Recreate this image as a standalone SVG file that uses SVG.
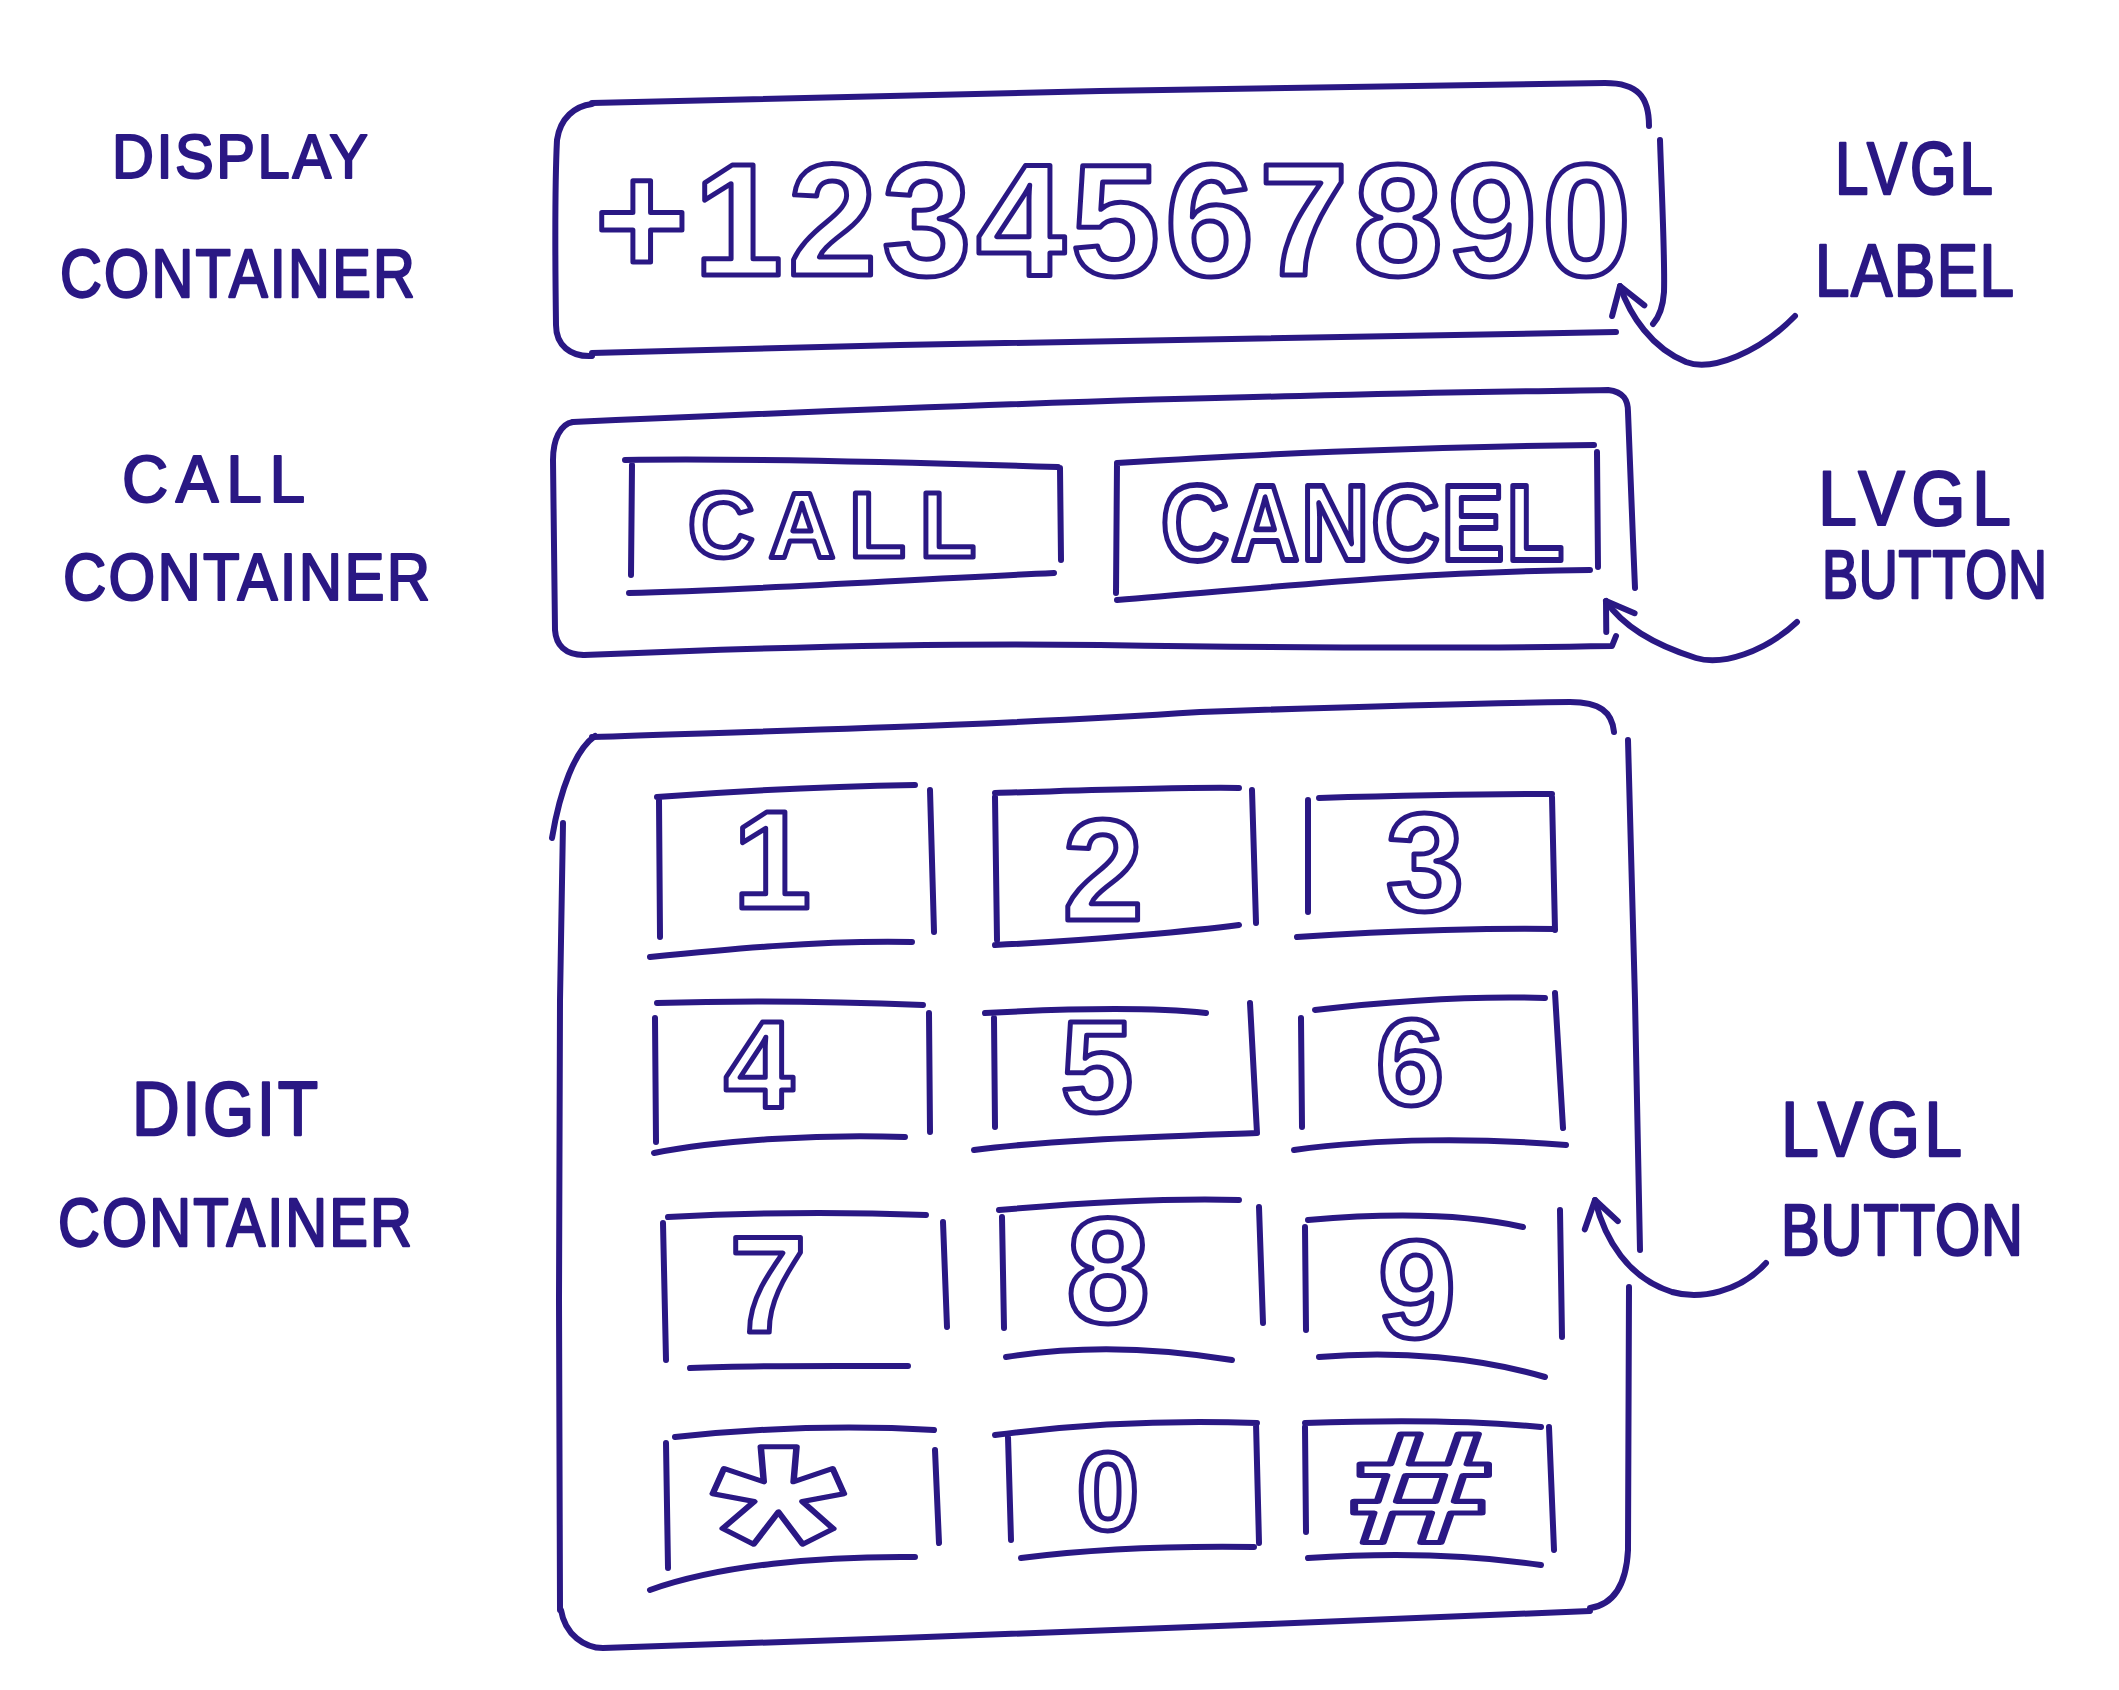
<svg xmlns="http://www.w3.org/2000/svg" width="2119" height="1690" viewBox="0 0 2119 1690">
<style>
.ln{fill:none;stroke:#2a1884;stroke-width:6;stroke-linecap:round;stroke-linejoin:round}
.ol{fill:#ffffff;stroke:#2a1884;stroke-width:5;stroke-linejoin:round;font-family:"Liberation Sans",Arial,sans-serif;font-weight:bold}
.hw{fill:#2a1884;stroke:#2a1884;stroke-width:2;stroke-linejoin:round;font-family:"Liberation Sans",Arial,sans-serif}
</style>
<defs>
<marker id="ah" viewBox="-32 -22 36 44" refX="0" refY="0" markerWidth="36" markerHeight="44" markerUnits="userSpaceOnUse" orient="auto">
<path d="M-26,-17 L0,0 L-26,17" fill="none" stroke="#2a1884" stroke-width="6" stroke-linecap="round" stroke-linejoin="round"/>
</marker>
</defs>
<rect width="2119" height="1690" fill="#ffffff"/>

<g id="display-container">
<path class="ln" d="M592,103 C700,99 900,96 1100,91 C1300,87 1500,86 1605,83 C1638,83 1649,97 1649,126"/>
<path class="ln" d="M1660,140 C1662,200 1665,260 1664,292 C1663,307 1660,316 1653,324"/>
<path class="ln" d="M1616,332 C1500,336 1200,341 900,345 C750,348 650,351 592,353"/>
<path class="ln" d="M592,356 C570,357 556,345 556,325 C555,250 555,180 557,140 C560,118 575,106 592,104"/>
<text class="ol" x="595" y="275" font-size="160" textLength="1036" lengthAdjust="spacing">+1234567890</text>
</g>

<g id="call-container">
<path class="ln" d="M573,422 C800,412 1100,400 1300,396 C1450,392 1560,391 1608,390 C1624,392 1628,400 1628,412 L1633,540 L1635,588"/>
<path class="ln" d="M584,655 C700,650 900,642 1100,645 C1300,648 1500,648 1612,646 L1616,636"/>
<path class="ln" d="M584,655 C565,655 556,645 555,630 L553,460 C553,440 560,424 573,422"/>
</g>

<g id="call-button">
<path class="ln" d="M625,460 C750,458 900,462 1058,467 M632,465 L631,575 M1060,468 L1061,560 M629,593 C750,590 900,580 1054,573"/>
<text class="ol" x="688" y="557" font-size="92" textLength="288" lengthAdjust="spacing">CALL</text>
</g>

<g id="cancel-button">
<path class="ln" d="M1117,463 C1250,455 1400,447 1594,445 M1117,463 L1116,593 M1597,452 L1598,567 M1117,600 C1250,590 1400,572 1590,570"/>
<text class="ol" transform="translate(1161,560) scale(1,1.15)" font-size="94" textLength="403" lengthAdjust="spacing">CANCEL</text>
</g>

<g id="digit-container">
<path class="ln" d="M592,737 C800,730 1000,725 1200,712 C1400,705 1500,703 1570,702 C1600,702 1612,712 1614,732"/>
<path class="ln" d="M1628,740 L1635,1000 L1640,1250 M1629,1287 L1628,1550 C1626,1590 1610,1605 1590,1608"/>
<path class="ln" d="M1590,1611 C1400,1620 1100,1630 900,1638 C750,1643 650,1647 603,1648 C585,1648 565,1635 561,1610"/>
<path class="ln" d="M563,823 L560,1000 L559,1300 L560,1610 M595,736 C575,750 560,790 552,838"/>
</g>

<g id="btn-1"><path class="ln" d="M657,797 C750,790 850,786 915,785 M659,800 L660,937 M930,790 L934,932 M650,957 C720,950 820,940 912,942"/><text class="ol" x="772" y="908" font-size="140" text-anchor="middle">1</text></g>
<g id="btn-2"><path class="ln" d="M995,793 C1100,790 1180,787 1239,788 M995,797 L997,940 M1252,790 L1256,923 M995,945 C1100,940 1200,930 1239,925"/><text class="ol" x="1103" y="920" font-size="145" text-anchor="middle">2</text></g>
<g id="btn-3"><path class="ln" d="M1319,798 C1420,795 1500,794 1552,794 M1308,800 L1308,912 M1552,797 L1555,930 M1297,937 C1400,930 1500,928 1555,929"/><text class="ol" x="1425" y="910" font-size="140" text-anchor="middle">3</text></g>
<g id="btn-4"><path class="ln" d="M657,1003 C750,1000 850,1002 923,1005 M655,1018 L656,1142 M929,1013 L930,1132 M654,1153 C720,1140 820,1134 905,1137"/><text class="ol" x="759" y="1107" font-size="125" text-anchor="middle">4</text></g>
<g id="btn-5"><path class="ln" d="M985,1013 C1080,1008 1160,1008 1206,1013 M994,1018 L995,1127 M1250,1003 L1257,1133 M974,1150 C1050,1140 1150,1137 1257,1133"/><text class="ol" x="1097" y="1112" font-size="130" text-anchor="middle">5</text></g>
<g id="btn-6"><path class="ln" d="M1315,1010 C1400,1000 1480,996 1545,998 M1301,1018 L1302,1127 M1555,993 L1563,1128 M1294,1150 C1380,1138 1480,1138 1566,1145"/><text class="ol" x="1410" y="1105" font-size="122" text-anchor="middle">6</text></g>
<g id="btn-7"><path class="ln" d="M668,1217 C760,1212 850,1212 926,1215 M663,1223 L666,1360 M943,1222 L947,1327 M690,1368 C760,1365 840,1366 908,1366"/><text class="ol" x="768" y="1332" font-size="138" text-anchor="middle">7</text></g>
<g id="btn-8"><path class="ln" d="M999,1210 C1080,1203 1170,1198 1239,1200 M1002,1217 L1004,1328 M1259,1207 L1263,1323 M1006,1357 C1080,1345 1160,1348 1232,1360"/><text class="ol" x="1108" y="1323" font-size="150" text-anchor="middle">8</text></g>
<g id="btn-9"><path class="ln" d="M1308,1220 C1400,1212 1470,1215 1523,1227 M1305,1227 L1306,1330 M1560,1210 L1562,1337 M1319,1357 C1400,1350 1480,1358 1545,1377"/><text class="ol" x="1417" y="1338" font-size="140" text-anchor="middle">9</text></g>
<g id="btn-star"><path class="ln" d="M675,1437 C760,1428 850,1425 934,1430 M666,1443 L668,1568 M935,1450 L939,1543 M650,1590 C720,1565 820,1556 915,1557"/><text class="ol" transform="translate(778,1627) scale(1.3,1)" font-size="262" stroke-width="4" text-anchor="middle">*</text></g>
<g id="btn-0"><path class="ln" d="M995,1435 C1080,1424 1170,1420 1257,1423 M1008,1437 L1011,1540 M1256,1423 L1259,1543 M1021,1558 C1100,1548 1180,1546 1254,1547"/><text class="ol" x="1108" y="1530" font-size="112" text-anchor="middle">0</text></g>
<g id="btn-hash"><path class="ln" d="M1305,1423 C1390,1420 1470,1420 1541,1427 M1305,1427 L1306,1532 M1549,1427 L1554,1550 M1308,1558 C1400,1552 1480,1556 1541,1565"/><text class="ol" transform="translate(1421,1543) scale(1.6,1)" font-size="160" stroke-width="4" text-anchor="middle">#</text></g>

<g id="label-display-container">
<text class="hw" transform="translate(112,178) scale(1,1.08)" font-size="58" textLength="256" lengthAdjust="spacing">DISPLAY</text>
<text class="hw" transform="translate(60,297) scale(1,1.18)" font-size="58" textLength="355" lengthAdjust="spacing">CONTAINER</text>
</g>
<g id="label-call-container">
<text class="hw" transform="translate(122,502) scale(1,1.03)" font-size="64" textLength="183" lengthAdjust="spacing">CALL</text>
<text class="hw" transform="translate(63,600) scale(1,1.1)" font-size="60" textLength="367" lengthAdjust="spacing">CONTAINER</text>
</g>
<g id="label-digit-container">
<text class="hw" transform="translate(132,1135) scale(1,1.15)" font-size="66" textLength="186" lengthAdjust="spacing">DIGIT</text>
<text class="hw" transform="translate(58,1246) scale(1,1.18)" font-size="58" textLength="354" lengthAdjust="spacing">CONTAINER</text>
</g>
<g id="label-lvgl-label">
<text class="hw" transform="translate(1835,194) scale(1,1.25)" font-size="60" textLength="158" lengthAdjust="spacing">LVGL</text>
<text class="hw" transform="translate(1815,296) scale(1,1.2)" font-size="62" textLength="199" lengthAdjust="spacing">LABEL</text>
</g>
<g id="label-lvgl-button-1">
<text class="hw" transform="translate(1818,525) scale(1,1.12)" font-size="70" textLength="193" lengthAdjust="spacing">LVGL</text>
<text class="hw" transform="translate(1822,598) scale(1,1.28)" font-size="54" textLength="225" lengthAdjust="spacing">BUTTON</text>
</g>
<g id="label-lvgl-button-2">
<text class="hw" transform="translate(1781,1156) scale(1,1.15)" font-size="68" textLength="181" lengthAdjust="spacing">LVGL</text>
<text class="hw" transform="translate(1781,1255) scale(1,1.25)" font-size="58" textLength="242" lengthAdjust="spacing">BUTTON</text>
</g>

<g id="connectors">
<path class="ln" marker-end="url(#ah)" d="M1795,316 C1760,352 1712,372 1686,362 C1652,348 1630,316 1620,286"/>
<path class="ln" marker-end="url(#ah)" d="M1797,622 C1765,652 1722,666 1696,658 C1658,646 1624,628 1606,601"/>
<path class="ln" marker-end="url(#ah)" d="M1766,1263 C1740,1292 1700,1300 1672,1292 C1628,1278 1605,1240 1595,1200"/>
</g>
</svg>
